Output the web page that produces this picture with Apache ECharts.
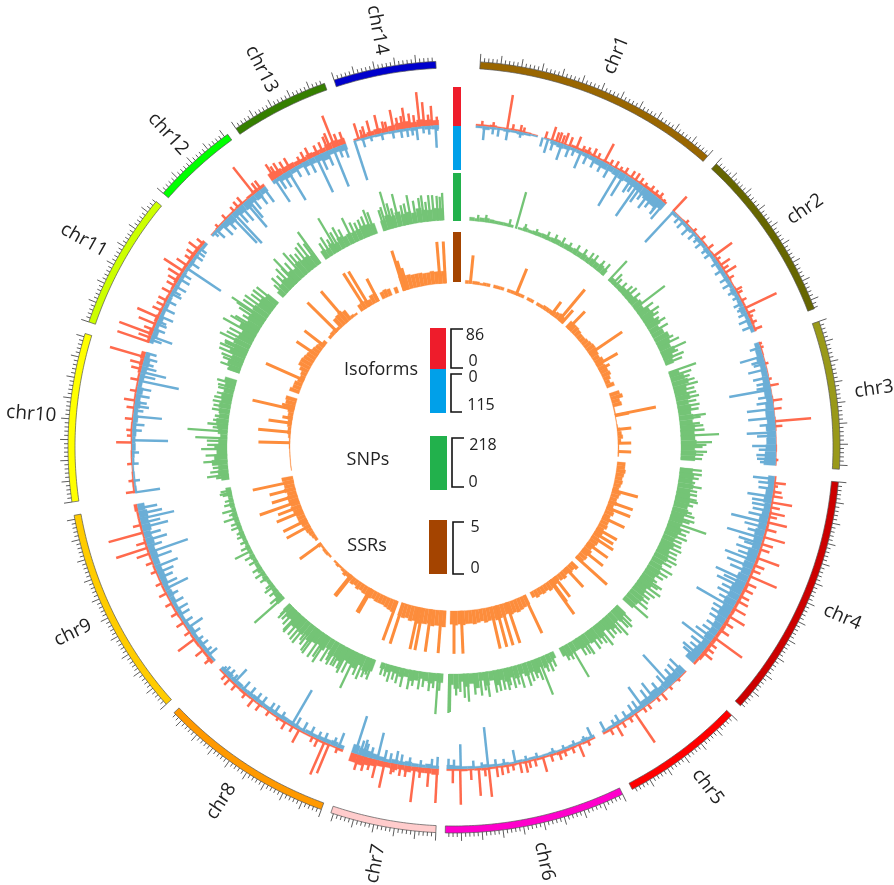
<!DOCTYPE html>
<html><head><meta charset="utf-8">
<script src="https://cdn.jsdelivr.net/npm/echarts@6/dist/echarts.min.js"></script>
<style>html,body{margin:0;background:#fff}#c{width:894px;height:885px}</style></head>
<body><div id="c"></div>
<script>
const chrNames=['chr1','chr2','chr3','chr4','chr5','chr6','chr7','chr8','chr9','chr10','chr11','chr12','chr13','chr14'];
const chrStart=[3.9,42.8,71,95.2,134,154.1,182.7,200.1,228.2,261.8,288.9,311.1,325.6,341.9];
const chrEnd=[41.1,69,93.3,132.1,152.5,181.3,198.6,226.5,259.8,287.1,309.5,324.1,340.4,357.3];
const chrColors=['#996600','#666600','#999919','#CC0000','#FF0000','#FF00CC','#FFCCCC','#FF9900','#FFCC00','#FFFF00','#CCFF00','#00FF00','#357F00','#0000CC'];

const isoUpBins=[
[4,4,5,3,3,4,4,3,2,0,2,3,2,3,6,5,8,5,4,5,3,4,5,4,4,5,7,6,7,5],
[2,2,3,3,3,3,4,3,4,5,5,4,4,3,4,4,5,5,6,6,5],
[3,3,2,2,2,1,1,1,2,1,1,2,2,1,1,2,1,2],
[4,4,5,4,4,5,5,6,5,5,5,6,7,6,6,6,8,7,7,7,8,7,8,9,8,9,8,9,9,6],
[3,3,2,2,2,2,3,2,3,3,4,3,4,4,5],
[4,5,4,5,6,7,5,4,5,4,5,4,5,5,4,5,6,5,4,5,4,4],
[14,12,12,10,14,11,14,12,13,16,18,22,20],
[6,4,5,5,4,4,4,4,4,5,4,4,3,4,4,5,6,5,5,4,4],
[8,6,5,6,5,4,4,4,5,5,4,4,5,4,4,5,4,5,5,5,4,5,5,5,8],
[4,4,3,2,3,3,2,3,4,4,3,3,3,4,4,4,5,7,8,10],
[7,9,6,8,6,5,6,5,6,8,6,7,6,8,8,7],
[2,3,3,4,4,5,4,6,8,7],
[18,15,12,12,10,9,12,10,10,14,16,14],
[4,7,10,12,10,12,15,16,12,16,14,12]];
const isoDownBins=[
[5,8,5,4,6,5,7,5,3,0,3,9,12,10,7,8,9,10,14,16,14,16,18,15,16,18,20,24,26,20],
[8,6,8,9,6,9,8,10,8,9,10,10,10,9,12,9,10,14,9,10,9],
[12,15,18,14,15,16,18,18,16,20,22,20,24,22,24,26,28,30],
[16,14,18,20,16,18,22,20,24,22,20,26,24,26,24,28,26,30,28,30,26,28,24,22,20,22,18,20,22,26],
[22,20,22,18,16,20,15,16,10,9,8,6,8,6,5],
[6,8,5,6,5,4,6,5,4,6,5,6,4,6,5,6,8,5,6,6,8,10],
[7,10,7,8,11,8,10,7,10,13,16,18,22],
[9,12,10,9,8,9,6,8,9,10,8,9,8,9,10,9,8,10,9,12,9],
[6,8,9,10,9,12,9,8,10,9,12,14,12,15,16,15,16,18,16,20,18,22,20,22,18],
[5,4,4,3,5,6,9,8,10,9,12,10,14,12,15,10,12,14,16,12],
[10,14,9,12,9,10,9,8,10,9,9,8,9,8,6,8],
[6,10,16,20,15,18,20,15,18,14],
[9,14,16,12,10,14,15,16,20,12,12,15],
[3,5,5,6,5,6,6,6,8,5,8,9]];
const snpBins=[
[16,12,18,20,16,14,14,14,12,0,10,18,14,16,18,20,18,20,24,20,24,22,26,24,28,24,32,30,36,30],
[24,20,24,30,34,32,40,48,38,56,62,50,64,48,58,72,64,56,68,48,40],
[48,64,76,60,56,66,54,62,58,66,60,68,64,66,72,64,70,66],
[60,68,64,72,62,66,70,66,72,62,64,60,72,62,56,66,54,60,66,56,60,66,58,62,68,56,60,72,66,62],
[56,66,54,70,60,48,66,56,60,54,58,50,50,56,44],
[32,42,56,44,66,52,60,46,58,48,62,50,70,44,64,38,70,48,60,36,68,50],
[42,36,48,40,32,44,50,36,42,32,28,36,28],
[56,68,50,74,64,58,76,66,72,50,70,58,64,74,56,68,62,66,48,52,40],
[40,28,22,20,18,24,20,26,20,18,22,18,20,16,18,22,18,20,22,24,18,22,20,20,24],
[36,48,44,72,60,48,58,40,32,44,50,56,46,50,54,48,52,46,48,56],
[56,68,60,80,66,80,72,66,90,68,76,72,80,70,74,64],
[36,48,56,48,64,56,72,64,66,56],
[44,38,50,40,56,48,52,48,50,58,56,50],
[48,66,56,68,52,58,50,66,56,52,58,56]];
const ssrBins=[
[.3,0,.3,.3,.2,.3,.3,0,.3,.3,.3,0,.3,.3,.3,.3,.3,0,.3,.3,0,.3,.3,.4,.4,.4,.5,.6,.7,.6],
[.8,.8,.8,.7,.6,.6,.7,.8,.9,.9,.8,.7,.9,.7,.8,.8,.9,.7,.5,.8],
[1,1.2,.8,.9,.1,.1,.05,.05,.05,.1,.3,.4,.5,.3,.1,.1,.1,.1],
[.8,.8,.9,.8,.7,.8,.7,.6,.9,.8,.7,.8,.6,.8,.9,.7,.8,.8,.9,.7,.8,.7,.8,.9,.8,.7,.9,.8,.9,.8],
[.9,.7,.8,.6,.8,.7,.5,.7,.8,.9,.7,.8,.7,.8,.6],
[1,1.1,1.2,1.3,1.2,1.3,1.1,1.2,1.3,1.4,1.2,1.3,1.4,1.2,1.3,1.4,1.3,1.3,1.4,1.3,1.4,1.3],
[1.6,1.5,1.5,1.6,1.4,1.5,1.5,1.6,1.4,1.5,1.3,1.4,1.3],
[1.2,1.1,1,.9,.9,.9,.8,.9,.8,.8,.7,.8,.6,.7,.5,.4,.5,.3,.2,.3,.2],
[.2,.3,.3,.2,.4,0,.3,.4,.5,.6,.6,.7,.8,.8,.8,.9,1,.9,1,1,.9,1.1,1,1,1.1],
[.05,.05,.05,.05,.05,.05,.1,.1,.1,.2,.3,.3,.4,.4,.5,.5,.6,.9,1,1.1],
[1,.8,.8,.6,.5,.6,.9,1.2,1.2,1.1,1,.9,.8,.7,.6,.4],
[.3,.4,.4,.3,1.1,1.2,1.3,1.1,.3,.2],
[.7,.8,.7,.6,.9,.9,0,.7,.8,.7,0,.6],
[1.5,1.4,1.4,1.3,1.3,1.3,1.2,1.2,1.3,1.2,1.2,1.2]];

// [angle in degrees clockwise from the top, value]
const isoUpSpikes=[[9.5,79],[11.9,16],[17.7,32],[20.1,28],[22.3,30],[19.6,20],[25.6,20],[27.8,47],[31,11],[33.3,18],[36.2,12],[40.5,8],
[42.9,45],[53.7,52],[55.7,27],[57.3,30],[60.9,17],[64.5,80],[66.2,11],[68.6,20],
[71.3,7],[77.8,7],[79,20],[81.7,22],[83.2,18],[85.4,82],[86.3,16],[92.3,6],
[96.4,27],[97,10],[99.9,48],[101.8,36],[103.5,46],[106.2,51],[110.1,55],[113.6,68],[116.2,25],[120,33],[121.6,43],[126.2,79],[129.5,28],
[139.9,20],[144,13],[145.8,80],[149.7,29],
[157.2,32],[164,36],[167.2,27],[168.2,25],[172.4,25],[173.8,68],[175.6,63],[178.9,81],[180.2,32],
[183,78],[184.5,43],[187,81],[190.6,20],[192.4,61],[193.9,43],[197.2,36],
[201.2,14],[202.8,72],[203.7,81],[208.7,34],[213,10],[220.2,15],[222.5,18],
[229,19],[233.5,48],[247.3,15],[250.7,32],[251.8,76],[254.6,82],
[262,21],[270.8,36],[275,19],[278.3,26],[286.2,82],
[289,77],[290.5,80],[292.4,43],[293.7,54],[298.6,24],[303,54],[305.5,19],[309,20],
[321.7,78],
[327.5,33],[331.6,18],[334.4,10],[338.3,78],[340,30],
[342.8,38],[345,36],[346.5,44],[349.2,48],[351.3,48],[352.2,33],[353.9,79],[354.7,55],[356.1,45]];
const isoUpTeeth=[[5,12],[7,12],[10.5,14],[12.5,12],[16.5,16],[18.5,22],[19,24],[21,22],[23.5,14],[24.5,16],[26.5,14],[29,14],[30,18],[32,16],[34.2,20],[35.2,16],[37.5,16],[38.5,14],[39.5,16],
[46,10],[48,10],[50,14],[52,16],[54.5,12],[56.5,16],[58.5,14],[61.5,14],[63,14],[65.5,20],[67.3,14],[72,8],[75,8],
[98,20],[98.8,24],[100.8,22],[102.5,20],[104.8,26],[107.5,28],[108.5,24],[111.5,26],[112.5,22],[115,26],[117.5,24],[118.5,28],[123,24],[124.5,26],[127.5,20],[128.5,22],
[136,8],[138,10],[141,12],[143,14],[147,14],[148.5,16],[151,16],
[155.5,14],[158.5,16],[160,16],[161,20],[162.5,18],[165.5,18],[166.5,18],[169.5,16],[170.5,20],[171.5,22],[174.5,20],[177,26],
[186,24],[188.5,26],[189.5,26],[191,26],[195,28],[196,34],
[205,20],[206,14],[210,16],[211.5,20],[215,14],[217,18],[218.5,22],[224,20],[225,16],
[231,24],[235,16],[237,20],[239,18],[241,18],[243,20],[245,16],[249,18],[252.8,24],[256,20],
[264,12],[267,12],[272,12],[273,14],[277,18],[280,16],[282,20],[284,24],[285,30],
[289.8,30],[291.3,24],[295,24],[296,20],[297,22],[300,22],[301,26],[302,34],[304.2,30],[306.5,24],[307.7,30],
[313,10],[315,14],[317,14],[318,18],[319,20],[322.5,24],[323.2,24],
[326.3,40],[326.8,30],[328.5,28],[329.5,30],[332.5,24],[333.5,28],[335,24],[336,26],[337,34],[337.5,40],[339,30],
[343.5,20],[344,26],[347.5,26],[348,24],[350,28],[350.8,30],[353,28],[355.5,26],[357,20]];
const isoDownSpikes=[[5.4,35],[9.6,28],[12,15],[17,37],[19.6,44],[21,29],[23.3,47],[30.9,105],[32,66],[35,102],[35.7,52],[37.2,25],[37.6,52],[39.9,33],[40.8,53],
[43,107],[48.4,23],[50.5,24],[56.6,24],[58.3,24],[62.2,18],[64.5,21],[66.7,30],
[73.6,61],[76,48],[79.3,36],[79.7,108],[83.2,69],[84.8,68],[87.4,74],[89.8,61],[92.8,40],
[95.7,55],[98.9,64],[100.6,48],[103.6,94],[106.5,95],[108,43],[110.8,82],[114.6,87],[116,75],[120,107],[122,47],[124.4,40],[127.5,88],[130.4,54],
[137.7,105],[141.5,52],[144,65],[149,24],[152,28],
[154.6,30],[169,34],[173.9,103],[178.8,63],
[183,30],[190.4,33],[193.8,71],[196.4,43],[197.9,100],
[201,40],[203.8,24],[210.3,103],[212.5,20],[216.8,25],[223,46],[223.5,20],[226,15],
[229.7,29],[231.9,24],[235.8,46],[239.6,34],[243.8,65],[244.7,40],[248.1,62],[249.8,54],[250.9,103],[253.1,56],[255.5,68],[257.1,89],[258,60],
[261.9,64],[271.2,92],[275.5,73],[277.3,37],[279.2,35],[281.9,104],[283.5,66],[285,28],[287,28],
[290.1,56],[291.5,29],[294,37],[300,32],[303.8,106],[307.3,22],
[312.4,30],[313.8,40],[316,98],[316.7,107],[319.6,85],[320.2,60],[323.7,46],
[326.2,69],[329,87],[334.6,102],[338,105],[340,36],
[342,106],[351.6,22],[353.3,33],[356.7,57]];
const isoDownTeeth=[[7,18],[8,22],[16,24],[18,26],[22,20],[24.5,28],[26,28],[27.5,30],[29,36],[33.5,42],[34.2,34],[36.5,36],[38.5,40],[40,45],
[44.5,20],[45.5,24],[47,28],[49.5,18],[52,20],[53,22],[55,20],[59.5,26],[61,22],[63.5,24],[65.5,24],[68,28],
[72,28],[74.5,34],[75,30],[77.5,40],[78.5,34],[81,36],[82,42],[86,40],[88,48],[90.5,44],[91.5,50],[92.2,48],
[96.5,40],[97.5,38],[99.8,50],[101.5,44],[102.5,52],[104.5,56],[105.5,44],[107.5,60],[109,60],[110,50],[112,70],[113,56],[115.3,60],[117,54],[118,60],[119,48],[121,50],[123,44],[125.5,42],[126.5,54],[128.5,48],[129.5,40],[131,46],
[134.5,50],[135.5,44],[136.5,40],[138.5,42],[140,36],[142.5,40],[145,30],[146,28],[147.5,22],[150,18],
[156,14],[158,14],[160,12],[162,14],[165,14],[167,13],[171,16],[172.5,18],[175,14],[176.5,20],[180,24],[181,26],
[184,24],[186,18],[188,22],[189.5,26],[191.5,24],[192.5,30],[195,28],[196,34],[197,38],
[202,22],[205,20],[206.5,24],[208,26],[209.5,28],[214,26],[215,24],[218,24],[219.5,26],[221,28],[224.5,24],[225.5,22],
[230.5,20],[233,20],[234.5,26],[237,26],[238.5,30],[241,32],[242.5,28],[246,36],[247,44],[252,38],[254.2,44],[256.3,50],[259,50],
[264,16],[267,16],[269,18],[273,24],[274,30],[276.5,24],[278,30],[280.5,36],[282.8,40],[284.3,38],[286,34],
[289.5,30],[292.5,28],[293,24],[295.5,32],[297,26],[298.5,30],[299,24],[301.5,30],[302.5,26],[305,28],[306.5,24],[308,20],
[311.8,16],[315,36],[317.5,44],[318.5,50],[321,40],[322.5,40],
[327,36],[328,40],[330.5,30],[332,36],[333.3,38],[335.5,44],[336.8,40],[339,30],
[343.5,24],[345,14],[347,18],[349,20],[350.5,22],[352.5,20],[354.5,18],[355.5,22],[357,14]];
const snpSpikes=[[15.8,176],[35.8,56],
[42.9,125],[44.2,65],[50.4,67],[52.6,178],[57.6,73],[60.8,58],[62,65],[65.6,128],[65.8,46],
[70.9,135],[75,118],[78,109],[82.5,125],[84.4,93],[87.2,178],[88.9,144],[91.1,121],[92.8,99],
[95.5,102],[98.5,78],[101.4,97],[104,90],[105.7,93],[109,184],[114,100],[120.4,120],[123.8,79],[126,129],[131.4,146],
[135.3,121],[137.2,135],[141.2,125],[145.8,108],[149.6,184],
[158.2,184],[163.6,111],[168,98],[171.8,118],[176.6,131],[180.9,176],[181.2,181],
[184,189],[192.7,88],
[202,98],[205.3,184],[209,110],[209.6,110],[212,118],[213.4,142],[215,135],[216.4,135],[218.6,93],[219.6,125],[222.7,115],[223,108],[225.8,85],
[228.6,181],[232.3,56],[242.9,88],[247,40],[251.9,70],[254,65],[258.4,56],
[263,101],[269.5,120],[272.2,148],[273.9,186],[274.7,70],[281,87],[284.3,76],
[289.2,60],[291.3,97],[294,135],[294.6,116],[296.1,156],[299.2,174],[302,102],[303.7,158],[304,190],[309,125],
[316.2,155],[317.4,107],[318.6,146],[324,180],
[329.3,181],[330,97],[333.9,130],[339.7,108],
[342.9,111],[343.8,180],[346.2,155],[349.3,136],[351.8,114],[353.3,92],[354.1,122],[357.3,127]];
const snpTeeth=[[6,30],[8,34],[14,36],[18,34],[21,30],[24,40],[26,42],[28,46],[30,40],[32,50],[34,52],[37,60],[39,58],[40.5,62],
[45,48],[46.5,52],[48,60],[49,70],[54,88],[55.5,100],[56.5,84],[58.5,96],[60,92],[63,88],[64,108],[66.5,80],[67.5,100],[68.5,84],
[72,104],[73,90],[74,108],[76,96],[77,100],[79,92],[80,104],[81,96],[83,100],[85,108],[86,112],[89.5,118],[90,100],[91.8,104],
[96.5,104],[97.5,92],[99.5,112],[100.5,94],[102.5,100],[103,108],[106.5,110],[107.5,116],[108,96],[110,110],[111,100],[112,112],[113,94],[115,110],[116,98],[117,104],[118,116],[119,100],[121.5,108],[122.5,96],[124.5,116],[125,100],[127,112],[128,98],[129,104],[130,118],
[134.5,100],[136,110],[138,108],[139,96],[140,104],[142,100],[143,90],[144,104],[146.5,96],[147.5,92],[150.5,78],[151.5,72],
[155,70],[156,86],[157,78],[159,104],[160,88],[161,96],[162,112],[164.5,90],[165.5,102],[166.5,84],[167,104],[169,100],[170,104],[172.5,86],[173.5,108],[175,100],[177.5,112],[178.5,84],[179.5,100],
[183.5,80],[185,70],[186,86],[187.5,70],[188.5,84],[190,72],[191,92],[194,76],[195,64],[196,80],[197,60],[198,58],
[200.7,100],[201.3,80],[203,116],[204,104],[206.5,116],[207.5,128],[208,110],[210.5,118],[211,100],[214,120],[217,128],[218,110],[220.5,120],[221.5,110],[224,90],[225,76],[226,66],
[229.5,68],[231,48],[233,40],[235,44],[236.5,52],[238,48],[240,44],[241.5,50],[244,46],[245.5,36],[248,34],[249.5,50],[250.5,44],[253,38],[255.5,48],[256.5,40],[258,44],[259,50],
[262.5,60],[264,84],[265,70],[266.5,112],[268,100],[270.5,92],[271.5,94],[275.5,96],[276.5,72],[277.5,66],[279,84],[280,80],[282,84],[283,76],[285,80],[286,90],
[290,100],[292,110],[293,130],[295,120],[297,130],[298,126],[300.5,150],[301,130],[303,135],[305,140],[306,146],[307,125],[308,130],
[312,70],[312.8,100],[314,90],[315,115],[316,100],[319.5,120],[320.5,108],[321.5,130],[322.5,140],[323.5,120],
[326.5,80],[327.5,100],[328.5,76],[331,112],[332,90],[335,96],[336,86],[337,92],[338,100],[339,125],
[342.3,100],[344.5,120],[345.2,92],[347.5,96],[348.3,100],[350.5,105],[352.5,124],[355,120],[356,115],[356.7,110]];
const ssrSpikes=[[5.7,2.8],[22.2,2.8],[36.4,1.6],[39.7,4],[41,1.7],
[44,2.4],[55.6,3.9],[60.2,2.4],[62,1.2],
[78.8,4.1],[79,1.4],[83.9,1.4],[88.7,1.3],[91.6,1.3],
[105.2,2.6],[109.4,2.5],[111.6,2.5],[115.3,2.4],[119.7,2.3],[121.4,2.2],[122.9,2.5],[125.8,2.5],[128.6,2.6],[132,4.1],
[137.3,2.6],[142.3,2.5],[143.9,2.7],[144.3,4.1],
[154.7,4.1],[161.4,4.2],[163.4,4.2],[165.2,4.2],[167.1,4.2],[177.5,4.2],[180,4.2],
[184.4,4.2],[188,4.2],[190.9,4.2],[192.3,4.2],[198,4.2],
[200.2,4.1],[210,2.7],[210.5,2.7],[218.4,2.6],[218.8,2.6],
[234,2.6],[241.4,2.6],[243.6,2.6],[247,2.8],[248.9,2.4],[250.7,4.1],[252.9,2.6],[255.4,2.6],[257.9,4.1],
[271.5,3.1],[275.2,3.2],[278.3,2.3],[280,1],[283.1,4.2],[284,1.3],
[294,4.1],[303.8,2.5],[307.9,2.5],
[314.6,4.1],[319.5,4],
[327.5,4.1],[329,4],[332.6,2.5],
[342.4,4.1],[343,3],[343.7,2.2],[355.2,4.1],[357,4.1]];

const CX=454, CY=447;
const tickStep=0.62, majorEvery=5;
const ringColor=(i)=>chrColors[i];

function bars(binsByChr){
  const out=[];
  binsByChr.forEach((bins,i)=>{
    const w=(chrEnd[i]-chrStart[i])/bins.length;
    bins.forEach((v,k)=>out.push([chrStart[i]+k*w,chrStart[i]+(k+1)*w,v]));
  });
  return out;
}
function polygonItem(color){
  return function(p,api){
    const a0=api.value(0),a1=api.value(1),v=api.value(2);
    if(!(v>0))return null;
    return {type:'polygon',shape:{points:[api.coord([v,a0]),api.coord([v,a1]),api.coord([0,a1]),api.coord([0,a0])]},
      style:{fill:color,stroke:color,lineWidth:.3}};
  };
}
function spikeItem(color,width){
  return function(p,api){
    const a=api.value(0),v=api.value(1);
    const s=api.coord([0,a]),e=api.coord([v,a]);
    return {type:'line',shape:{x1:s[0],y1:s[1],x2:e[0],y2:e[1]},style:{stroke:color,lineWidth:width,lineCap:'butt'}};
  };
}
const tracks=[
  {radius:[322,360],max:86,bins:isoUpBins,spikes:isoUpSpikes.concat(isoUpTeeth),color:'#FF6A4D',w:2.5,inverse:false},
  {radius:[277,322],max:115,bins:isoDownBins,spikes:isoDownSpikes.concat(isoDownTeeth),color:'#6BAED6',w:2.5,inverse:true},
  {radius:[227,274],max:218,bins:snpBins,spikes:snpSpikes.concat(snpTeeth),color:'#74C476',w:2.3,inverse:false},
  {radius:[164,215],max:5,bins:ssrBins,spikes:ssrSpikes,color:'#FD8D3C',w:3,inverse:false}
];
const polar=[],angleAxis=[],radiusAxis=[],series=[];
function addPolar(radius,max,inverse){
  const idx=polar.length;
  polar.push({center:[CX,CY],radius});
  angleAxis.push({polarIndex:idx,type:'value',min:0,max:360,startAngle:90,clockwise:true,show:false});
  radiusAxis.push({polarIndex:idx,type:'value',min:0,max,inverse:!!inverse,show:false});
  return idx;
}
tracks.forEach(t=>{
  const idx=addPolar(t.radius,t.max,t.inverse);
  series.push({type:'custom',coordinateSystem:'polar',polarIndex:idx,silent:true,clip:false,
    renderItem:spikeItem(t.color,t.w),data:t.spikes,encode:{radius:1,angle:0}});
  series.push({type:'custom',coordinateSystem:'polar',polarIndex:idx,silent:true,clip:false,
    renderItem:polygonItem(t.color),data:bars(t.bins),encode:{radius:2,angle:0}});
});
// chromosome ring
const ringIdx=addPolar([379,386],1);
series.push({type:'custom',coordinateSystem:'polar',polarIndex:ringIdx,silent:true,clip:false,
  data:chrNames.map((n,i)=>[chrStart[i],chrEnd[i],i]),encode:{angle:0},
  renderItem(p,api){
    const a0=api.value(0),a1=api.value(1),i=api.value(2),outer=[],inner=[];
    const n=Math.ceil((a1-a0)/0.5);
    for(let k=0;k<=n;k++){const a=a0+(a1-a0)*k/n;outer.push(api.coord([1,a]));inner.unshift(api.coord([0,a]));}
    return {type:'polygon',shape:{points:outer.concat(inner)},style:{fill:ringColor(i),stroke:'#555',lineWidth:.7}};
  }});
// ticks
const tickIdx=addPolar([386,394],1);
const tickData=[];
chrNames.forEach((n,i)=>{
  let k=0;
  for(let a=chrStart[i];a<=chrEnd[i];a+=tickStep,k++)tickData.push([a,k%majorEvery===0?1:.5]);
});
series.push({type:'custom',coordinateSystem:'polar',polarIndex:tickIdx,silent:true,clip:false,
  renderItem:spikeItem('#333',.8),data:tickData,encode:{radius:1,angle:0}});
// chromosome labels
const labelIdx=addPolar([414,434],1);
series.push({type:'custom',coordinateSystem:'polar',polarIndex:labelIdx,silent:true,clip:false,
  data:chrNames.map((n,i)=>[(chrStart[i]+chrEnd[i])/2,i]),encode:{angle:0},
  renderItem(p,api){
    const a=api.value(0),pt=api.coord([.5,a]);
    const deg=a<180?90-a:270-a;
    return {type:'text',x:pt[0],y:pt[1],rotation:deg*Math.PI/180,
      style:{text:chrNames[api.value(1)],fill:'#222',font:'19px "Open Sans"',align:'center',verticalAlign:'middle'}};
  }});

const rect=(x,y,w,h,fill)=>({type:'rect',shape:{x,y,width:w,height:h},style:{fill},silent:true});
const txt=(x,y,t,size)=>({type:'text',x,y,silent:true,style:{text:t,fill:'#222',font:size+'px "Open Sans"',align:'center',verticalAlign:'middle'}});
const bracket=(x0,x1,y0,y1)=>({type:'polyline',silent:true,shape:{points:[[x1,y0],[x0,y0],[x0,y1],[x1,y1]]},style:{fill:'none',stroke:'#111',lineWidth:1.6}});
const graphicEls=[
  rect(453,87,8,39,'#EE1C2B'),rect(453,126,8,44,'#00A0E9'),rect(453,173,8,48,'#22B14C'),rect(453,232,8,50,'#A44400'),
  rect(430,328,16,41,'#EE1C2B'),rect(430,369,16,44,'#00A0E9'),rect(430,436,17,54,'#22B14C'),rect(429,520,18,54,'#A44400'),
  bracket(451,463,329,368),bracket(451,462,374,412),bracket(452,464,438,487),bracket(453,464,522,574),
  txt(381,370,'Isoforms',18),txt(368,460,'SNPs',18),txt(367,546,'SSRs',18),
  txt(475,335,'86',16),txt(473,361,'0',16),txt(473,377,'0',16),txt(481,405,'115',16),
  txt(483,445,'218',16),txt(473,482,'0',16),txt(475,527,'5',16),txt(475,568,'0',16)
];
const chart=echarts.init(document.getElementById('c'),null,{renderer:'canvas'});
chart.setOption({animation:false,backgroundColor:'#fff',polar,angleAxis,radiusAxis,series,graphic:{elements:graphicEls}});
</script></body></html>
